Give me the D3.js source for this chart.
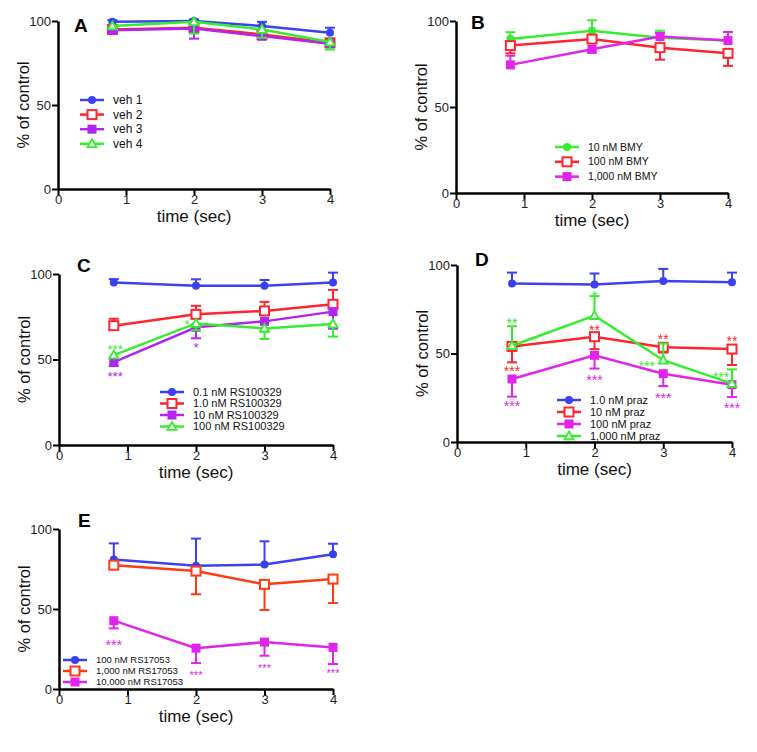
<!DOCTYPE html>
<html lang="en">
<head>
<meta charset="UTF-8">
<title>% of control vs time, five panels</title>
<script src="https://d3js.org/d3.v7.min.js"></script>
<style>
  body { margin: 0; background: #fff; }
  svg { font-family: "Liberation Sans", Arial, sans-serif; }
  .tick text { fill: #222; }
</style>
</head>
<body>
<svg id="chart" width="757" height="752"></svg>
<script>
// ---- data ----
const times = [0.8, 2, 3, 4];
const xTicks = [0, 1, 2, 3, 4];
const yTicks = [0, 50, 100];

// panel A
const aLabels = ["veh 1", "veh 2", "veh 3", "veh 4"];
const aMean = [[99.5, 100, 97, 93], [95, 96, 92, 87], [94.5, 95.5, 91, 86.5], [97, 99.5, 95, 87.5]];
const aUp   = [[1, 1, 2.5, 3], [1, 0, 0, 2], [0, 0, 0, 0], [0, 0, 0, 0]];
const aDown = [[0, 0, 0, 0], [1, 0, 0, 0], [1, 6, 2, 1], [1, 7, 5, 4.5]];

// panel B
const bLabels = ["10 nM BMY", "100 nM BMY", "1,000 nM BMY"];
const bMean = [[89.5, 94.4, 90.3, 88.6], [85.7, 89.5, 84.5, 81.2], [74.5, 83.6, 91, 88.6]];
const bUp   = [[4, 6, 4, 0], [0, 0, 0, 0], [5.3, 0, 2, 5]];
const bDown = [[0, 0, 0, 0], [4.5, 0, 7, 7.3], [0, 2, 0, 0]];

// panel C
const cLabels = ["0.1 nM RS100329", "1.0 nM RS100329", "10 nM RS100329", "100 nM RS100329"];
const cMean = [[95, 93.2, 93.2, 95], [69.8, 76.4, 78.4, 82.3], [48.5, 68.8, 72.3, 78], [52.6, 71.1, 68.2, 70.8]];
const cUp   = [[2, 3.7, 3.3, 5.8], [4, 5, 5.3, 8.4], [0, 0, 0, 0], [0, 0, 0, 0]];
const cDown = [[0, 0, 0, 0], [0, 0, 0, 0], [2.3, 6.4, 0, 10], [0, 4, 6.2, 7.4]];
// [time, value, text, series]
const cStars = [[0.82, 57.9, "***", 3], [0.82, 41.9, "***", 2], [1.87, 72.5, "*", 3], [2, 59, "*", 2]];

// panel D
const dLabels = ["1.0 nM praz", "10 nM praz", "100 nM praz", "1,000 nM praz"];
const dMean = [[89.5, 89, 91, 90.2], [54, 59.5, 53.5, 52.5], [35.6, 49, 38.6, 32.4], [54.4, 71.4, 46.2, 33]];
const dUp   = [[6.2, 6.2, 6.8, 5.5], [0, 0, 0, 0], [0, 0, 0, 0], [11, 11, 9.4, 8]];
const dDown = [[0, 0, 0, 0], [9, 7, 3, 9], [10, 7.5, 7, 7], [0, 0, 0, 0]];
const dStars = [
  [0.8, 69, "**", 3], [0.8, 41.8, "***", 1], [0.8, 22, "***", 2],
  [2, 84.5, "*", 3], [2, 65.3, "**", 1], [2, 37, "***", 2],
  [3, 60, "**", 1], [2.76, 44.6, "***", 3], [3, 26.7, "***", 2],
  [4, 58.8, "**", 1], [3.84, 38.4, "***", 3], [4, 21, "***", 2]
];

// panel E
const eLabels = ["100 nM RS17053", "1,000 nM RS17053", "10,000 nM RS17053"];
const eMean = [[81, 77, 77.8, 84.2], [77.4, 73.7, 65.4, 68.7], [42.7, 25.5, 29.3, 26]];
const eUp   = [[10, 17, 14.5, 6.6], [0, 0, 0, 0], [0, 0, 0, 0]];
const eDown = [[0, 0, 0, 0], [1, 14.5, 16, 15], [4.8, 9.3, 8.5, 10.4]];
const eStars = [[0.8, 29.7, "***", 2], [2, 10.4, "***", 2], [3, 14.5, "***", 2], [4, 11.4, "***", 2]];

// ---- styles / layout ----
const BLUE = "#3b40f2", RED = "#ff2430", VIOLET = "#b224f5", MAGENTA = "#e024ee", GREEN = "#33ee2c", ORANGE = "#ff3a14";

const panels = [
  { id: "A", labels: aLabels, mean: aMean, up: aUp, down: aDown, stars: [],
    styles: [[BLUE, "circle"], [RED, "sqOpen"], [VIOLET, "sqFill"], [GREEN, "triOpen"]],
    box: { x0: 58, x4: 330, y0: 189, y100: 21 }, tag: [74, 32],
    legend: { x: 80, y: 100, dy: 14.6, fs: 12 } },
  { id: "B", labels: bLabels, mean: bMean, up: bUp, down: bDown, stars: [],
    styles: [[GREEN, "circle"], [RED, "sqOpen"], [MAGENTA, "sqFill"]],
    box: { x0: 456, x4: 728, y0: 193, y100: 21 }, tag: [471, 29],
    legend: { x: 555, y: 147, dy: 14.8, fs: 10.5 } },
  { id: "C", labels: cLabels, mean: cMean, up: cUp, down: cDown, stars: cStars, starFs: 13,
    styles: [[BLUE, "circle"], [RED, "sqOpen"], [VIOLET, "sqFill"], [GREEN, "triOpen"]],
    box: { x0: 59, x4: 333, y0: 445, y100: 274 }, tag: [77, 272],
    legend: { x: 160, y: 392, dy: 11.5, fs: 11 } },
  { id: "D", labels: dLabels, mean: dMean, up: dUp, down: dDown, stars: dStars, starFs: 14,
    styles: [[BLUE, "circle"], [RED, "sqOpen"], [MAGENTA, "sqFill"], [GREEN, "triOpen"]],
    box: { x0: 457, x4: 732, y0: 442, y100: 265 }, tag: [475, 266],
    legend: { x: 557, y: 400, dy: 12, fs: 11 } },
  { id: "E", labels: eLabels, mean: eMean, up: eUp, down: eDown, stars: eStars, starFs: 11, firstStarFs: 14,
    styles: [[BLUE, "circle"], [ORANGE, "sqOpen"], [MAGENTA, "sqFill"]],
    box: { x0: 59, x4: 333, y0: 689, y100: 529 }, tag: [78, 527],
    legend: { x: 63, y: 660, dy: 11, fs: 9.5 } }
];

const svg = d3.select("#chart");

function drawMarker(g, shape, color, cx, cy) {
  if (shape === "circle") {
    g.append("circle").attr("cx", cx).attr("cy", cy).attr("r", 4).attr("fill", color);
  } else if (shape === "sqOpen") {
    g.append("rect").attr("x", cx - 4.5).attr("y", cy - 4.5).attr("width", 9).attr("height", 9)
      .attr("fill", "#fff").attr("stroke", color).attr("stroke-width", 2);
  } else if (shape === "sqFill") {
    g.append("rect").attr("x", cx - 4.5).attr("y", cy - 4.5).attr("width", 9).attr("height", 9)
      .attr("fill", color);
  } else if (shape === "triOpen") {
    const s = 4.5;
    g.append("path")
      .attr("d", `M${cx},${cy - s}L${cx + s},${cy + s * 0.75}L${cx - s},${cy + s * 0.75}Z`)
      .attr("fill", "#fff").attr("stroke", color).attr("stroke-width", 1.8);
  }
}

panels.forEach(p => {
  const x = d3.scaleLinear().domain([0, 4]).range([p.box.x0, p.box.x4]);
  const y = d3.scaleLinear().domain([0, 100]).range([p.box.y0, p.box.y100]);
  const g = svg.append("g");

  // axes
  const yAxis = g.append("g").attr("transform", `translate(${p.box.x0},0)`)
    .call(d3.axisLeft(y).tickValues(yTicks).tickFormat(d3.format("d")).tickSize(6).tickPadding(1).tickSizeOuter(0));
  const xAxis = g.append("g").attr("transform", `translate(0,${p.box.y0})`)
    .call(d3.axisBottom(x).tickValues(xTicks).tickFormat(d3.format("d")).tickSize(6).tickPadding(0).tickSizeOuter(0));
  [xAxis, yAxis].forEach(a => {
    a.select(".domain").attr("stroke", "#000").attr("stroke-width", 2.5);
    a.selectAll(".tick line").attr("stroke", "#000").attr("stroke-width", 2);
    a.selectAll(".tick text").attr("font-size", 13).attr("font-family", "Liberation Sans, Arial, sans-serif");
  });

  g.append("text")
    .attr("transform", `translate(${p.box.x0 - 29},${(p.box.y0 + p.box.y100) / 2}) rotate(-90)`)
    .attr("text-anchor", "middle").attr("font-size", 16.5).attr("fill", "#111")
    .text("% of control");
  g.append("text")
    .attr("x", (p.box.x0 + p.box.x4) / 2).attr("y", p.box.y0 + 33)
    .attr("text-anchor", "middle").attr("font-size", 17).attr("fill", "#111")
    .text("time (sec)");
  g.append("text").attr("x", p.tag[0]).attr("y", p.tag[1])
    .attr("font-size", 19).attr("font-weight", "bold").attr("fill", "#000").text(p.id);

  // series
  const line = d3.line().x(d => x(d[0])).y(d => y(d[1]));
  p.mean.forEach((vals, i) => {
    const [color, shape] = p.styles[i];
    const sg = g.append("g");
    vals.forEach((v, j) => {
      const cx = x(times[j]);
      const up = p.up[i][j], dn = p.down[i][j];
      [[up, 1], [dn, -1]].forEach(([e, sgn]) => {
        if (e <= 0) return;
        const yEnd = y(v + sgn * e);
        sg.append("line").attr("x1", cx).attr("x2", cx).attr("y1", y(v)).attr("y2", yEnd)
          .attr("stroke", color).attr("stroke-width", 2);
        sg.append("line").attr("x1", cx - 5).attr("x2", cx + 5).attr("y1", yEnd).attr("y2", yEnd)
          .attr("stroke", color).attr("stroke-width", 2);
      });
    });
    sg.append("path").datum(vals.map((v, j) => [times[j], v]))
      .attr("d", line).attr("fill", "none").attr("stroke", color).attr("stroke-width", 2.5);
    vals.forEach((v, j) => drawMarker(sg, shape, color, x(times[j]), y(v)));
  });

  // significance stars
  p.stars.forEach((s, k) => {
    const fs = (k === 0 && p.firstStarFs) ? p.firstStarFs : p.starFs;
    g.append("text")
      .attr("x", x(s[0])).attr("y", y(s[1]) + fs * 0.58)
      .attr("text-anchor", "middle").attr("font-size", fs)
      .attr("fill", p.styles[s[3]][0]).text(s[2]);
  });

  // legend
  const lg = g.append("g");
  p.labels.forEach((lab, i) => {
    const [color, shape] = p.styles[i];
    const ly = p.legend.y + i * p.legend.dy;
    lg.append("line").attr("x1", p.legend.x).attr("x2", p.legend.x + 24)
      .attr("y1", ly).attr("y2", ly).attr("stroke", color).attr("stroke-width", 2.5);
    drawMarker(lg, shape, color, p.legend.x + 12, ly);
    lg.append("text").attr("x", p.legend.x + 33).attr("y", ly)
      .attr("dy", "0.35em").attr("font-size", p.legend.fs).attr("fill", "#111").text(lab);
  });
});
</script>
</body>
</html>
